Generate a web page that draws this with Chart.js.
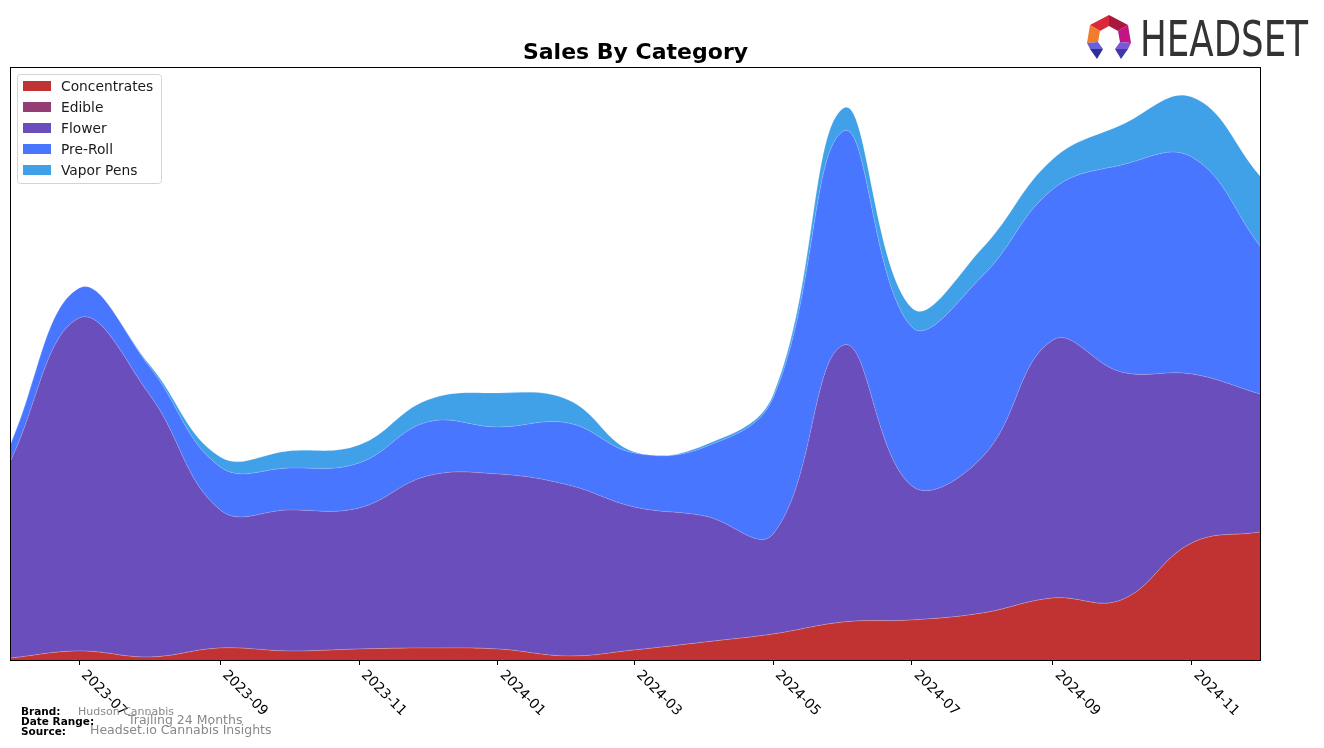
<!DOCTYPE html>
<html>
<head>
<meta charset="utf-8">
<script src="https://cdn.jsdelivr.net/npm/chart.js@4.4.1/dist/chart.umd.min.js"></script>
<style>
  html, body { margin: 0; padding: 0; background: #ffffff; }
  #wrap { width: 1324px; height: 748px; position: relative; }
</style>
</head>
<body>
<div id="wrap"><canvas id="c" width="1324" height="748"></canvas></div>
<script>
// ---- Data ----
const months = ['2023-06','2023-07','2023-08','2023-09','2023-10','2023-11','2023-12',
                '2024-01','2024-02','2024-03','2024-04','2024-05','2024-06','2024-07',
                '2024-08','2024-09','2024-10','2024-11','2024-12'];
const concentrates = [2, 9, 3, 12, 9, 11, 12, 11, 4, 10, 18, 26, 38, 40, 47, 62, 60, 117, 128];
const edible       = [0, 0, 0, 0, 0, 0, 0, 0, 0, 0, 0, 0, 0, 0, 0, 0, 0, 0, 0];
const flower       = [198, 333, 262, 138, 141, 141, 172, 175, 171, 143, 126, 100, 277, 134, 156, 258, 228, 169, 138];
const preRoll      = [17, 30, 28, 43, 42, 45, 54, 47, 62, 54, 69, 136, 214, 159, 181, 151, 207, 217, 148];
const vaporPens    = [0, 0, 2, 10, 17, 18, 22, 34, 23, 1, 2, 3, 23, 19, 28, 30, 40, 60, 70];
const tickLabels   = ['2023-07','2023-09','2023-11','2024-01','2024-03','2024-05','2024-07','2024-09','2024-11'];
const seriesNames  = ['Concentrates','Edible','Flower','Pre-Roll','Vapor Pens'];
const seriesColors = ['#c13232','#943c74','#6a4ebc','#4876ff','#40a0e8'];

const DAY = 86400000;
const origin = Date.UTC(2023, 5, 1);
function dayOf(ym) {
  const [y, m] = ym.split('-').map(Number);
  return Math.round((Date.UTC(y, m - 1, 1) - origin) / DAY);
}
const xDays = months.map(dayOf);
const tickDays = tickLabels.map(dayOf);

const seriesValues = [concentrates, edible, flower, preRoll, vaporPens];
const datasets = seriesNames.map((name, i) => ({
  label: name,
  data: seriesValues[i].map((v, j) => ({ x: xDays[j], y: v })),
  backgroundColor: seriesColors[i],
  borderColor: 'rgba(255,255,255,0.25)',
  borderWidth: 0.7,
  pointRadius: 0,
  pointHoverRadius: 0,
  tension: 0.4,
  fill: i === 0 ? 'origin' : '-1'
}));

const decor = {
  id: 'decor',
  afterDraw(chart) {
    const ctx = chart.ctx;
    const ca = chart.chartArea;
    const xs = chart.scales.x;
    ctx.save();

    // frame
    ctx.strokeStyle = '#000';
    ctx.lineWidth = 1;
    ctx.strokeRect(Math.round(ca.left) - 0.5, Math.round(ca.top) - 0.5,
                   Math.round(ca.right - ca.left) + 1, Math.round(ca.bottom - ca.top) + 1);

    // title
    ctx.fillStyle = '#000';
    ctx.font = 'bold 22px "DejaVu Sans"';
    ctx.textAlign = 'center';
    ctx.textBaseline = 'alphabetic';
    ctx.fillText('Sales By Category', (ca.left + ca.right) / 2, 59);

    // x tick labels rotated clockwise
    ctx.font = '13.8px "DejaVu Sans"';
    ctx.textAlign = 'left';
    ctx.textBaseline = 'top';
    tickLabels.forEach((lab, i) => {
      const px = xs.getPixelForValue(tickDays[i]);
      ctx.save();
      ctx.translate(px + 9, ca.bottom + 8);
      ctx.rotate(Math.PI / 4);
      ctx.fillStyle = '#000';
      ctx.fillText(lab, 0, 0);
      ctx.restore();
    });

    // legend
    const lx = 17, ly = 74, lw = 144, lh = 109;
    ctx.beginPath();
    ctx.roundRect(lx + 0.5, ly + 0.5, lw, lh, 3);
    ctx.fillStyle = 'rgba(255,255,255,0.85)';
    ctx.fill();
    ctx.strokeStyle = '#d4d4d4';
    ctx.lineWidth = 1;
    ctx.stroke();
    ctx.font = '13.8px "DejaVu Sans"';
    ctx.textBaseline = 'middle';
    seriesNames.forEach((name, i) => {
      const cy = 86 + i * 21;
      ctx.fillStyle = seriesColors[i];
      ctx.fillRect(23, cy - 5, 28, 10);
      ctx.fillStyle = '#1a1a1a';
      ctx.fillText(name, 61, cy + 1);
    });

    // footer
    ctx.textBaseline = 'middle';
    ctx.fillStyle = '#000';
    ctx.font = 'bold 10.5px "DejaVu Sans"';
    ctx.fillText('Brand:', 21, 712);
    ctx.fillText('Date Range:', 21, 722);
    ctx.fillText('Source:', 21, 732);
    ctx.fillStyle = '#888';
    ctx.font = '11px "DejaVu Sans"';
    ctx.fillText('Hudson Cannabis', 78, 712);
    ctx.font = '12.5px "DejaVu Sans"';
    ctx.fillText('Trailing 24 Months', 128, 721);
    ctx.fillText('Headset.io Cannabis Insights', 90, 731);

    // logo icon
    const poly = (pts, col) => {
      ctx.beginPath();
      ctx.moveTo(pts[0][0], pts[0][1]);
      for (let k = 1; k < pts.length; k++) ctx.lineTo(pts[k][0], pts[k][1]);
      ctx.closePath();
      ctx.fillStyle = col;
      ctx.fill();
    };
    const T = [1109, 15], UR = [1128, 25], R = [1131, 43], UL = [1090, 25], L = [1087, 43];
    const iT = [1109, 26], iTR = [1118, 31], iR = [1120, 42], iTL = [1100, 31], iL = [1098, 42];
    const lmL = [1090, 49], lmIL = [1103, 49], lmR = [1128, 49], lmIR = [1115, 49];
    const tipL = [1097, 59], tipR = [1121, 59];
    poly([UL, T, iT, iTL], '#d8283a');
    poly([T, UR, iTR, iT], '#a8183c');
    poly([UL, iTL, iL, L], '#f07c2c');
    poly([UR, R, iR, iTR], '#c21482');
    poly([L, iL, lmIL, lmL], '#6a62dc');
    poly([R, lmR, lmIR, iR], '#7a58d6');
    poly([lmL, lmIL, tipL], '#2e2f96');
    poly([lmR, tipR, lmIR], '#3a3aa8');

    // logo text
    ctx.font = '50px "DejaVu Sans"';
    ctx.textAlign = 'left';
    ctx.textBaseline = 'alphabetic';
    const w = ctx.measureText('HEADSET').width;
    ctx.save();
    ctx.translate(1140, 56);
    ctx.scale(168 / w, 1);
    ctx.fillStyle = '#333333';
    ctx.fillText('HEADSET', 0, 0);
    ctx.restore();

    ctx.restore();
  }
};

new Chart(document.getElementById('c'), {
  type: 'line',
  data: { datasets },
  options: {
    responsive: false,
    animation: false,
    events: [],
    layout: { padding: { left: 11, right: 64, top: 68, bottom: 83 } },
    plugins: { legend: { display: false }, title: { display: false }, tooltip: { enabled: false } },
    scales: {
      x: {
        type: 'linear',
        min: 0,
        max: dayOf('2024-12'),
        afterBuildTicks: (s) => { s.ticks = tickDays.map(v => ({ value: v })); },
        ticks: { display: false },
        grid: { drawOnChartArea: false, drawTicks: true, tickLength: 5, color: '#000', lineWidth: 1 },
        border: { display: true, color: '#000', width: 1 }
      },
      y: {
        display: false,
        stacked: true,
        min: 0,
        max: 592
      }
    }
  },
  plugins: [decor]
});
</script>
</body>
</html>
